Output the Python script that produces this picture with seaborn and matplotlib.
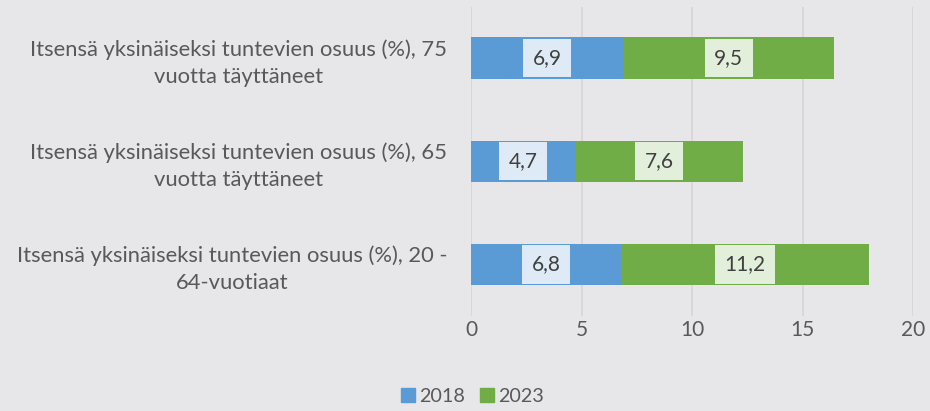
import pandas as pd
import numpy as np
import matplotlib
matplotlib.use("Agg")
import matplotlib.pyplot as plt
import seaborn as sns
from matplotlib.patches import Patch

# data
categories = [
    "Itsensä yksinäiseksi tuntevien osuus (%), 75\nvuotta täyttäneet",
    "Itsensä yksinäiseksi tuntevien osuus (%), 65\nvuotta täyttäneet",
    "Itsensä yksinäiseksi tuntevien osuus (%), 20 -\n64-vuotiaat",
]
values_2018 = [6.9, 4.7, 6.8]
values_2023 = [9.5, 7.6, 11.2]
labels_2018 = ["6,9", "4,7", "6,8"]
labels_2023 = ["9,5", "7,6", "11,2"]

bg = "#e7e6e8"
blue = "#5b9bd5"
green = "#70ad47"
txt = "#404040"
txt_axis = "#595959"
fs = 15

sns.set_theme(style="white")
plt.rcParams["font.family"] = ["Lato", "DejaVu Sans"]

df = pd.DataFrame({"cat": categories, "v2018": values_2018, "v2023": values_2023})
df["total"] = df["v2018"] + df["v2023"]

fig = plt.figure(figsize=(9.3, 4.11), dpi=100, facecolor=bg)
ax = fig.add_axes([0.5065, 0.232, 0.4755, 0.752])
ax.set_facecolor(bg)

# stacked look: totals in green, 2018 drawn on top in blue
sns.barplot(data=df, x="total", y="cat", color=green, orient="h", width=0.4,
            saturation=1, ax=ax, edgecolor="none")
sns.barplot(data=df, x="v2018", y="cat", color=blue, orient="h", width=0.4,
            saturation=1, ax=ax, edgecolor="none")

for i in range(len(df)):
    ax.text(values_2018[i] / 2, i, labels_2018[i], ha="center", va="center",
            fontsize=fs, color=txt,
            bbox=dict(boxstyle="square,pad=0.45", fc="#deebf7", ec="none"))
    ax.text(values_2018[i] + values_2023[i] / 2, i, labels_2023[i], ha="center",
            va="center", fontsize=fs, color=txt,
            bbox=dict(boxstyle="square,pad=0.45", fc="#e2efda", ec="none"))

ax.set_xlim(0, 20)
ax.set_ylim(2.5, -0.5)
ax.set_xticks([0, 5, 10, 15, 20])
ax.xaxis.grid(True, color="#d6d6d8", linewidth=1.2)
ax.set_axisbelow(True)
for s in ax.spines.values():
    s.set_visible(False)
ax.set_xlabel("")
ax.set_ylabel("")
ax.tick_params(axis="x", length=0, labelsize=fs, labelcolor=txt_axis, pad=3)
ax.tick_params(axis="y", length=0, labelsize=15.8, labelcolor=txt_axis, pad=17)
for lab in ax.get_yticklabels():
    lab.set_multialignment("center")
    lab.set_linespacing(1.4)

handles = [Patch(color=blue, label="2018"), Patch(color=green, label="2023")]
fig.legend(handles=handles, loc="center", bbox_to_anchor=(0.508, 0.035), ncol=2,
           frameon=False, fontsize=14.2, handlelength=0.7, handleheight=0.7,
           handletextpad=0.2, columnspacing=0.8, labelcolor=txt_axis)

fig.savefig("out.png", dpi=100, facecolor=bg)
